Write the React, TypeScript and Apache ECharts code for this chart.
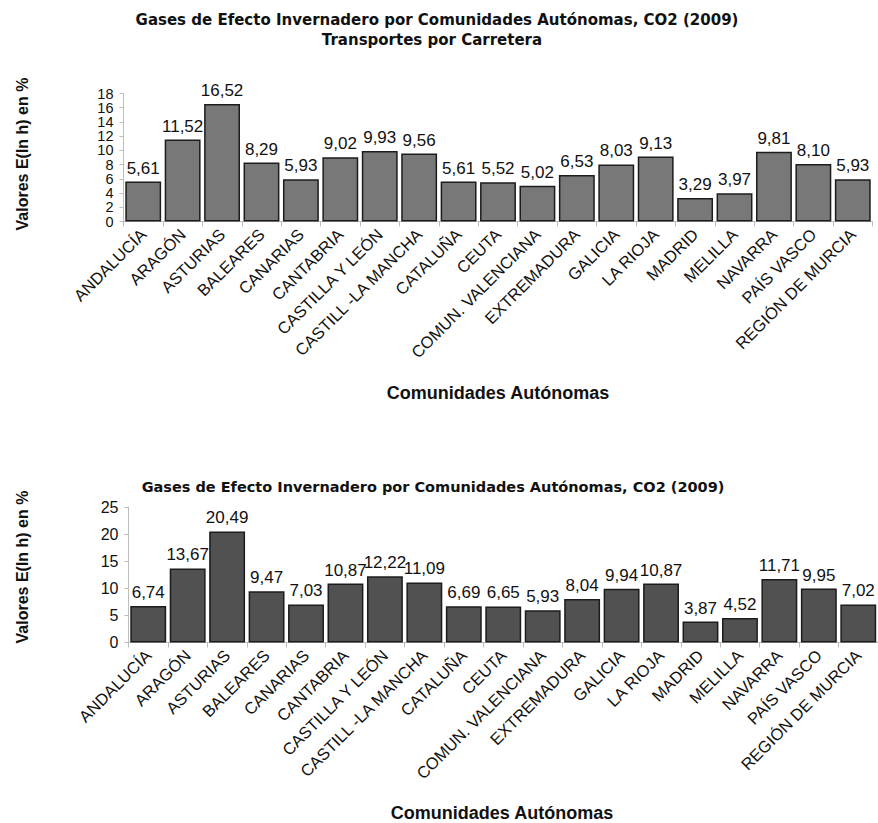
import React, { useEffect, useRef } from "react";
import * as echarts from "echarts";

// Comunidades Autónomas shown on both charts
const regions = [
  "ANDALUCÍA",
  "ARAGÓN",
  "ASTURIAS",
  "BALEARES",
  "CANARIAS",
  "CANTABRIA",
  "CASTILLA Y LEÓN",
  "CASTILL -LA MANCHA",
  "CATALUÑA",
  "CEUTA",
  "COMUN. VALENCIANA",
  "EXTREMADURA",
  "GALICIA",
  "LA RIOJA",
  "MADRID",
  "MELILLA",
  "NAVARRA",
  "PAÍS VASCO",
  "REGIÓN DE MURCIA",
];

// CO2, transportes por carretera (2009)
const roadTransport = [
  5.61, 11.52, 16.52, 8.29, 5.93, 9.02, 9.93, 9.56, 5.61, 5.52, 5.02, 6.53,
  8.03, 9.13, 3.29, 3.97, 9.81, 8.1, 5.93,
];

// CO2 total (2009)
const totalCO2 = [
  6.74, 13.67, 20.49, 9.47, 7.03, 10.87, 12.22, 11.09, 6.69, 6.65, 5.93, 8.04,
  9.94, 10.87, 3.87, 4.52, 11.71, 9.95, 7.02,
];

const titleMain =
  "Gases de Efecto Invernadero por Comunidades Autónomas, CO2 (2009)";
const titleSub = "Transportes por Carretera";
const yName = "Valores E(ln h) en %";
const xName = "Comunidades Autónomas";

const FONT = "'Liberation Sans', Arial, sans-serif";
const WIDE = "'DejaVu Sans', sans-serif";

const fmt = (v: number) => v.toFixed(2).replace(".", ",");

function App() {
  const ref = useRef<HTMLDivElement>(null);

  useEffect(() => {
    document.body.style.margin = "0";
    if (!ref.current) return;
    const chart = echarts.init(ref.current, null, { renderer: "svg" });

    const catAxis = (gridIndex: number) => ({
      type: "category",
      gridIndex,
      data: regions,
      axisLine: { lineStyle: { color: "#bdbdbd", width: 1 } },
      axisTick: {
        show: true,
        alignWithLabel: false,
        length: 5,
        lineStyle: { color: "#bdbdbd" },
      },
      axisLabel: {
        interval: 0,
        rotate: 45,
        margin: 10,
        color: "#111",
        fontFamily: FONT,
        fontSize: 16.5,
      },
    });

    const valAxis = (
      gridIndex: number,
      max: number,
      interval: number,
      fontSize: number,
      extra: any = {}
    ) => ({
      type: "value",
      gridIndex,
      position: "left",
      min: 0,
      max,
      interval,
      splitLine: { show: false },
      axisLine: { show: true, lineStyle: { color: "#bdbdbd", width: 1 } },
      axisTick: { show: true, length: 4, lineStyle: { color: "#bdbdbd" } },
      ...extra,
      axisLabel: {
        color: "#111",
        fontFamily: FONT,
        fontSize,
        lineHeight: 12,
        margin: 10,
        ...(extra.axisLabel || {}),
      },
    });

    const barSeries = (
      idx: number,
      yIdx: number,
      data: number[],
      color: string
    ) => ({
      type: "bar",
      xAxisIndex: idx,
      yAxisIndex: yIdx,
      data,
      barCategoryGap: "9%",
      itemStyle: { color, borderColor: "#1c1c1c", borderWidth: 1.5 },
      label: {
        show: true,
        position: "top",
        distance: 5,
        color: "#111",
        fontFamily: FONT,
        fontSize: 17,
        formatter: (p: any) => fmt(p.value),
      },
    });

    const boldText = (
      x: number,
      y: number,
      text: string,
      size: number,
      family: string,
      rotation = 0
    ) => ({
      type: "text",
      x,
      y,
      rotation,
      style: {
        text,
        fill: "#111",
        font: `bold ${size}px ${family}`,
        textAlign: "center",
        textVerticalAlign: "middle",
      },
    });

    chart.setOption({
      animation: false,
      backgroundColor: "#fff",
      grid: [
        { left: 123.5, top: 93.5, width: 749, height: 128 },
        { left: 128.5, top: 507, width: 751, height: 135.5 },
      ],
      xAxis: [catAxis(0), catAxis(1)],
      yAxis: [
        // top chart: the inner ticks 2..16 on one axis, the ends 0 and 18 on
        // a second axis sharing the same position, so the dense scale keeps
        // all of its numbers
        valAxis(0, 18, 2, 14.5, {
          axisLabel: { showMinLabel: false, showMaxLabel: false },
        }),
        valAxis(0, 18, 18, 14.5, {
          axisLine: { show: false },
          axisLabel: { showMinLabel: true, showMaxLabel: true },
        }),
        valAxis(1, 25, 5, 16),
      ],
      series: [
        barSeries(0, 0, roadTransport, "#787878"),
        barSeries(1, 2, totalCO2, "#515151"),
      ],
      graphic: [
        boldText(437, 20, titleMain, 15, WIDE),
        boldText(432, 40, titleSub, 15, WIDE),
        boldText(433, 487, titleMain, 14.5, WIDE),
        boldText(22, 154, yName, 16, FONT, Math.PI / 2),
        boldText(22, 567, yName, 16, FONT, Math.PI / 2),
        boldText(498, 393, xName, 18, FONT),
        boldText(502, 813, xName, 18, FONT),
      ],
    });

    return () => chart.dispose();
  }, []);

  return <div ref={ref} style={{ width: 878, height: 823 }} />;
}

export default App;
